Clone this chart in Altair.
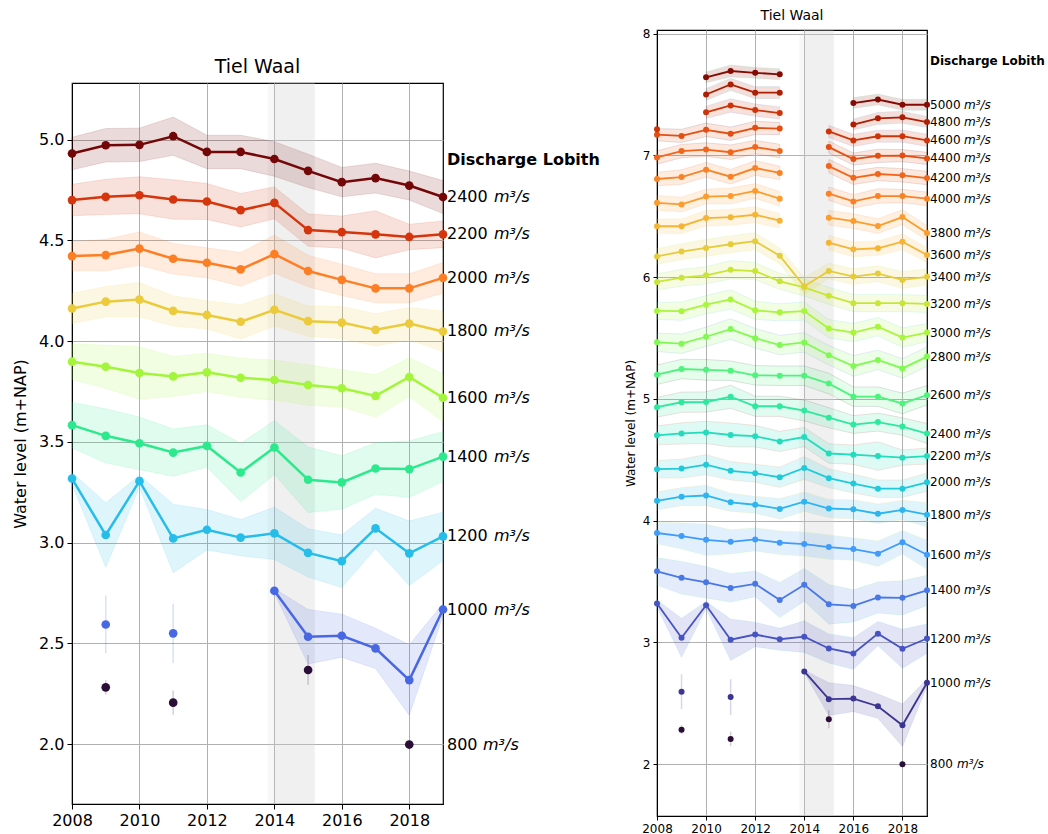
import altair as alt
import pandas as pd

years = list(range(2008, 2020))
discharges = [800, 1000, 1200, 1400, 1600, 1800, 2000, 2200, 2400, 2600, 2800,
              3000, 3200, 3400, 3600, 3800, 4000, 4200, 4400, 4600, 4800, 5000]

# mean water level per discharge class (m+NAP), 2008..2019 (None = no data)
lvl_800 = [None, 2.282, None, 2.206, None, None, None, 2.368, None, None, 1.998, None]
lvl_1000 = [None, 2.594, None, 2.550, None, None, 2.761, 2.533, 2.538, 2.475, 2.318, 2.668]
lvl_1200 = [3.318, 3.038, 3.305, 3.021, 3.064, 3.025, 3.046, 2.949, 2.908, 3.071, 2.947, 3.031]
lvl_1400 = [3.583, 3.530, 3.493, 3.447, 3.480, 3.348, 3.472, 3.312, 3.299, 3.368, 3.365, 3.427]
lvl_1600 = [3.898, 3.873, 3.842, 3.825, 3.845, 3.818, 3.807, 3.782, 3.766, 3.728, 3.822, 3.719]
lvl_1800 = [4.162, 4.196, 4.206, 4.150, 4.130, 4.096, 4.155, 4.099, 4.092, 4.056, 4.087, 4.048]
lvl_2000 = [4.422, 4.427, 4.459, 4.409, 4.389, 4.356, 4.432, 4.348, 4.304, 4.262, 4.262, 4.314]
lvl_2200 = [4.700, 4.716, 4.724, 4.703, 4.693, 4.650, 4.686, 4.551, 4.541, 4.530, 4.517, 4.530]
lvl_2400 = [4.931, 4.972, 4.974, 5.017, 4.939, 4.939, 4.904, 4.845, 4.789, 4.809, 4.772, 4.715]
lvl_2600 = [5.198, 5.245, 5.238, 5.231, 5.193, 5.190, 5.190, 5.125, 5.018, 5.018, 4.962, 5.030]
lvl_2800 = [5.464, 5.453, 5.510, 5.573, 5.498, 5.442, 5.463, 5.358, 5.270, 5.320, 5.250, 5.347]
lvl_3000 = [5.722, 5.720, 5.773, 5.817, 5.727, 5.711, 5.721, 5.577, 5.544, 5.593, 5.503, 5.544]
lvl_3200 = [5.960, 5.995, 6.015, 6.060, 6.050, 5.965, 5.915, 5.846, 5.786, 5.786, 5.786, 5.780]
lvl_3400 = [6.170, 6.210, 6.240, 6.270, 6.295, 6.175, 5.925, 6.051, 6.004, 6.029, 5.977, 6.002]
lvl_3600 = [6.418, 6.418, 6.485, 6.492, 6.512, 6.463, None, 6.283, 6.228, 6.237, 6.291, 6.182]
lvl_3800 = [6.610, 6.597, 6.662, 6.667, 6.708, 6.644, None, 6.488, 6.460, 6.419, 6.493, 6.362]
lvl_4000 = [6.806, 6.822, 6.882, 6.825, 6.896, 6.856, None, 6.685, 6.622, 6.666, 6.666, 6.644]
lvl_4200 = [6.983, 7.035, 7.048, 7.026, 7.068, 7.036, None, 6.912, 6.816, 6.847, 6.836, 6.814]
lvl_4400 = [7.170, 7.160, 7.210, 7.178, 7.226, 7.220, None, 7.068, 6.970, 6.996, 6.998, 6.975]
lvl_4600 = [7.215, None, 7.354, 7.410, 7.372, 7.348, None, 7.197, 7.123, 7.157, 7.158, 7.123]
lvl_4800 = [None, None, 7.500, 7.583, 7.515, 7.515, None, None, 7.253, 7.304, 7.313, 7.274]
lvl_5000 = [None, None, 7.641, 7.693, 7.678, 7.666, None, None, 7.430, 7.459, 7.416, 7.416]

# half width of the uncertainty band (m)
hw_800 = [0, 0.036, 0, 0.060, 0, 0, 0, 0.074, 0, 0, 0.005, 0]
hw_1000 = [0, 0.143, 0, 0.147, 0, 0, 0.010, 0.135, 0.107, 0.100, 0.175, 0.030]
hw_1200 = [0.030, 0.160, 0.030, 0.170, 0.100, 0.090, 0.130, 0.120, 0.130, 0.100, 0.160, 0.120]
hw_1400 = [0.113, 0.134, 0.130, 0.117, 0.105, 0.144, 0.134, 0.163, 0.132, 0.128, 0.140, 0.124]
hw_1600 = [0.089, 0.107, 0.130, 0.099, 0.095, 0.097, 0.099, 0.100, 0.092, 0.105, 0.096, 0.119]
hw_1800 = [0.075, 0.075, 0.085, 0.075, 0.070, 0.085, 0.080, 0.075, 0.080, 0.080, 0.080, 0.100]
hw_2000 = [0.072, 0.078, 0.083, 0.076, 0.074, 0.084, 0.094, 0.078, 0.078, 0.072, 0.072, 0.076]
hw_2200 = [0.078, 0.087, 0.092, 0.098, 0.089, 0.083, 0.079, 0.080, 0.080, 0.117, 0.063, 0.066]
hw_2400 = [0.081, 0.083, 0.083, 0.095, 0.083, 0.083, 0.086, 0.083, 0.073, 0.074, 0.072, 0.082]
hw_2600 = [0.080, 0.080, 0.085, 0.080, 0.080, 0.080, 0.080, 0.085, 0.080, 0.080, 0.085, 0.080]
hw_2800 = [0.075, 0.080, 0.080, 0.085, 0.080, 0.080, 0.080, 0.080, 0.085, 0.080, 0.080, 0.080]
hw_3000 = [0.070, 0.075, 0.075, 0.080, 0.075, 0.070, 0.075, 0.075, 0.075, 0.075, 0.080, 0.075]
hw_3200 = [0.065, 0.070, 0.070, 0.075, 0.070, 0.065, 0.070, 0.070, 0.070, 0.070, 0.070, 0.070]
hw_3400 = [0.065, 0.065, 0.070, 0.070, 0.070, 0.065, 0.070, 0.065, 0.065, 0.065, 0.070, 0.065]
hw_3600 = [0.060, 0.060, 0.065, 0.065, 0.065, 0.060, 0, 0.060, 0.060, 0.060, 0.065, 0.060]
hw_3800 = [0.060, 0.060, 0.060, 0.065, 0.060, 0.060, 0, 0.060, 0.060, 0.060, 0.060, 0.060]
hw_4000 = [0.055, 0.060, 0.060, 0.060, 0.060, 0.055, 0, 0.055, 0.055, 0.060, 0.055, 0.055]
hw_4200 = [0.055, 0.055, 0.055, 0.060, 0.055, 0.055, 0, 0.055, 0.055, 0.055, 0.055, 0.055]
hw_4400 = [0.050, 0.055, 0.055, 0.055, 0.055, 0.050, 0, 0.050, 0.050, 0.055, 0.050, 0.050]
hw_4600 = [0.050, 0, 0.050, 0.055, 0.050, 0.050, 0, 0.050, 0.050, 0.050, 0.050, 0.050]
hw_4800 = [0, 0, 0.050, 0.050, 0.050, 0.050, 0, 0, 0.045, 0.050, 0.050, 0.045]
hw_5000 = [0, 0, 0.045, 0.050, 0.045, 0.045, 0, 0, 0.045, 0.045, 0.045, 0.045]

span_start = [2013.8, 2014.0]
span_end = [2015.2, 2015.2]

levels = [lvl_800, lvl_1000, lvl_1200, lvl_1400, lvl_1600, lvl_1800, lvl_2000, lvl_2200,
          lvl_2400, lvl_2600, lvl_2800, lvl_3000, lvl_3200, lvl_3400, lvl_3600, lvl_3800,
          lvl_4000, lvl_4200, lvl_4400, lvl_4600, lvl_4800, lvl_5000]
halfw = [hw_800, hw_1000, hw_1200, hw_1400, hw_1600, hw_1800, hw_2000, hw_2200,
         hw_2400, hw_2600, hw_2800, hw_3000, hw_3200, hw_3400, hw_3600, hw_3800,
         hw_4000, hw_4200, hw_4400, hw_4600, hw_4800, hw_5000]

left_colors = ["#2b0e37", "#4867e3", "#27bde9", "#2de98d", "#a2f53a",
               "#ebcb3b", "#fd7f25", "#d4350c", "#730707"]
right_colors = ["#2b0e37", "#3b3591", "#4653c2", "#4878e6", "#3f9cfa", "#2cb5ee",
                "#20cad8", "#22dcbc", "#2ee89e", "#4ef37c", "#80fa52", "#a8f63c",
                "#c8e636", "#e4cc3a", "#f6b434", "#fc9c2e", "#fa8226", "#f2661c",
                "#e34e12", "#cc350a", "#ad1f04", "#830b03"]

rows = []
for q, lv, hw in zip(discharges, levels, halfw):
    seg = -1
    prev = None
    for yr, v, h in zip(years, lv, hw):
        if v is None:
            prev = None
            continue
        if prev is None:
            seg += 1
        rows.append(dict(q=q, year=yr, level=v, lo=v - h, hi=v + h, seg=f"{q}-{seg}"))
        prev = v
df = pd.DataFrame(rows)
df["seglen"] = df.groupby("seg")["year"].transform("count")

spans = pd.DataFrame({"x": span_start, "x2": span_end})


def panel(qs, colors, width, height, ydom, yticks, yfmt, fs, title,
          lw, psize, lab_dx, unit_dx4, unit_dx3, head_y, tick_size, tpad):
    d = df[df["q"].isin(qs)]
    labels = d.sort_values("year").groupby("q").tail(1).copy()
    labels["num"] = labels["q"].astype(str)
    labels["unit"] = "m³/s"
    color = alt.Color("q:O", scale=alt.Scale(domain=qs, range=colors), legend=None)
    xs = alt.X("year:Q", scale=alt.Scale(domain=[2008, 2019], nice=False, zero=False),
               axis=alt.Axis(values=list(range(2008, 2019, 2)), format="d", title=None,
                             labelFontSize=fs, labelFlush=False, labelOverlap=False,
                             tickSize=tick_size, labelPadding=3))
    ys = alt.Y("level:Q", scale=alt.Scale(domain=ydom, nice=False, zero=False),
               axis=alt.Axis(values=yticks, format=yfmt, title="Water level (m+NAP)",
                             titleFontSize=fs, labelFontSize=fs, tickSize=tick_size,
                             labelPadding=3, titlePadding=tpad))
    base = alt.Chart(d)
    span = alt.Chart(spans).mark_rect(color="#cfcfcf", opacity=0.17).encode(
        x="x:Q", x2="x2:Q")
    band = base.transform_filter("datum.seglen > 1").mark_area(
        fillOpacity=0.15, strokeOpacity=0.12, strokeWidth=1).encode(
        x=xs, y=alt.Y("lo:Q"), y2="hi:Q", color=color, stroke=color, detail="seg:N")
    ebar = base.transform_filter("datum.seglen == 1").mark_rule(
        strokeWidth=1.5, opacity=0.2).encode(x=xs, y=alt.Y("lo:Q"), y2="hi:Q", color=color)
    line = base.transform_filter("datum.seglen > 1").mark_line(strokeWidth=lw).encode(
        x=xs, y=ys, color=color, detail="seg:N")
    pts = base.mark_circle(size=psize, opacity=1).encode(x=xs, y=ys, color=color)
    lab_src = alt.Chart(labels)
    num = lab_src.mark_text(align="left", baseline="middle", dx=lab_dx, fontSize=fs,
                            color="black").encode(x=alt.datum(2019), y="level:Q", text="num:N")
    unit4 = lab_src.transform_filter("datum.q >= 1000").mark_text(
        align="left", baseline="middle", dx=unit_dx4, fontSize=fs, fontStyle="italic",
        color="black").encode(x=alt.datum(2019), y="level:Q", text="unit:N")
    unit3 = lab_src.transform_filter("datum.q < 1000").mark_text(
        align="left", baseline="middle", dx=unit_dx3, fontSize=fs, fontStyle="italic",
        color="black").encode(x=alt.datum(2019), y="level:Q", text="unit:N")
    head = alt.Chart(pd.DataFrame({"t": ["Discharge Lobith"]})).mark_text(
        align="left", baseline="middle", dx=lab_dx, fontSize=fs, fontWeight="bold",
        color="black").encode(x=alt.datum(2019), y=alt.datum(head_y), text="t:N")
    return alt.layer(span, band, ebar, line, pts, num, unit4, unit3, head).properties(
        width=width, height=height, title=title)


left = panel(discharges[:9], left_colors, 371, 721, [1.703, 5.281],
             [2.0, 2.5, 3.0, 3.5, 4.0, 4.5, 5.0], ".1f", 16,
             alt.Title("Tiel Waal", fontSize=19, offset=6, fontWeight="normal"),
             2.5, 75, 4, 51, 40, 4.90, 5, 10)
right = panel(discharges, right_colors, 270, 786, [1.573, 8.03],
              [2, 3, 4, 5, 6, 7, 8], "d", 12,
              alt.Title("Tiel Waal", fontSize=14, offset=5, fontWeight="normal"),
              1.8, 36, 3, 37, 30, 7.776, 4, 5)

spacer = alt.Chart(pd.DataFrame({"a": [0]})).mark_point(opacity=0).properties(
    width=10, height=26, view=alt.ViewBackground(stroke="transparent"))

left_col = alt.vconcat(spacer, left, spacing=0)

chart = alt.hconcat(left_col, right, spacing=22).resolve_scale(
    color="independent"
).properties(
    padding={"left": 11, "top": 8, "right": 2, "bottom": 2}
).configure(font="DejaVu Sans").configure_axis(
    gridColor="#b0b0b0", gridWidth=1, domainColor="black", tickColor="black",
    labelColor="black", titleColor="black", titleFontWeight="normal"
).configure_view(stroke="black", strokeWidth=1.2).configure_title(color="black")

chart.save("out.html", embed_options={"renderer": "svg", "actions": False})
